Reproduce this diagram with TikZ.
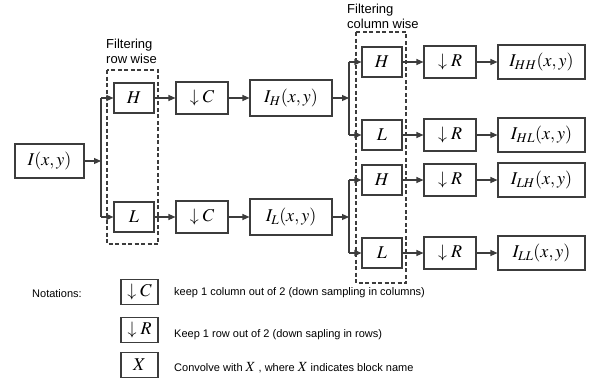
\documentclass[tikz,border=0pt]{standalone}
\usepackage{mathptmx}
\usepackage{fontspec}
\setmainfont{Liberation Serif}
\setsansfont{Liberation Sans}
\usepackage{tikz}
\usetikzlibrary{arrows.meta}
\definecolor{lngray}{RGB}{60,60,60}
\tikzset{
  box/.style={draw=lngray, line width=1.1pt, inner sep=0pt, font=\fontsize{18}{20}\selectfont},
  filt/.style={box, minimum width=40pt, minimum height=30pt},
  dsamp/.style={box, minimum width=52pt, minimum height=32pt},
  img/.style={box, minimum width=82pt, minimum height=36pt},
  outimg/.style={box, minimum width=87pt, minimum height=34pt},
  legbox/.style={box, minimum width=37pt, minimum height=25pt},
  arr/.style={-{Triangle[length=7pt,width=6pt]}, line width=1.1pt, draw=lngray},
  wire/.style={line width=1.1pt, draw=lngray},
  grp/.style={draw=lngray, line width=1.1pt, dash pattern=on 4pt off 2.5pt},
  lbl/.style={font=\sffamily\fontsize{13}{15}\selectfont, align=left, anchor=west, inner sep=0pt},
  note/.style={font=\sffamily\fontsize{11}{13}\selectfont, anchor=west, inner sep=0pt},
}

\begin{document}
\begin{tikzpicture}[x=1pt,y=-1pt]
  \useasboundingbox (0,0) rectangle (593,380);
  % filter groups
  \draw[grp] (107,70) rectangle (158,244);
  \draw[grp] (356,32) rectangle (406,283);
  \node[lbl] (rowlbl) at (106,51) {Filtering\\row wise};
  \node[lbl] (collbl) at (347,16) {Filtering\\column wise};

  \node[img, minimum width=69pt, minimum height=34pt] (in) at (49.5,161) {$I(x,y)$};
  \node[filt] (rowH) at (134,98) {$H$};
  \node[filt] (rowL) at (134,217) {$L$};
  \node[dsamp] (dcH) at (202,98) {$\downarrow C$};
  \node[dsamp] (dcL) at (202,217) {$\downarrow C$};
  \node[img] (iH) at (291,98) {$I_H(x,y)$};
  \node[img] (iL) at (291,217) {$I_L(x,y)$};

  \foreach \nm/\fl/\y in {HH/H/62, HL/L/135, LH/H/180, LL/L/253}{
    \node[filt] (c\nm) at (382,\y) {$\fl$};
    \node[dsamp] (r\nm) at (450,\y) {$\downarrow R$};
    \node[outimg] (o\nm) at (541.5,\y) {$I_{\nm}(x,y)$};
    \draw[arr] (c\nm) -- (r\nm);
    \draw[arr] (r\nm) -- (o\nm);
  }

  % split points
  \coordinate (s1) at (101,161);
  \coordinate (s1t) at (101,98);
  \coordinate (s1b) at (101,217);
  \coordinate (s2) at (349,98);
  \coordinate (s2t) at (349,62);
  \coordinate (s2b) at (349,135);
  \coordinate (s3) at (349,217);
  \coordinate (s3t) at (349,180);
  \coordinate (s3b) at (349,253);

  \draw[arr] (in) -- (s1);
  \draw[wire] (s1t) -- (s1b);
  \draw[wire] (s2t) -- (s2b);
  \draw[wire] (s3t) -- (s3b);
  \foreach \a/\b in {s1t/rowH, s1b/rowL, rowH/dcH, rowL/dcL, dcH/iH, dcL/iL,
                     iH/s2, iL/s3, s2t/cHH, s2b/cHL, s3t/cLH, s3b/cLL}
    \draw[arr] (\a) -- (\b);

  % notations
  \node[note] (notlbl) at (32,294) {Notations:};
  \node[legbox] (kC) at (139.5,292) {$\downarrow C$};
  \node[legbox] (kR) at (139.5,330) {$\downarrow R$};
  \node[legbox] (kX) at (139.5,365) {$X$};
  \node[note] (ktxtC) at (174,293) {keep 1 column out of 2 (down sampling in columns)};
  \node[note] (ktxtR) at (174,335) {Keep 1 row out of 2 (down sapling in rows)};
  \node[note] (ktxtX) at (174,368) {Convolve with {\fontsize{14}{14}\selectfont$X$} , where {\fontsize{14}{14}\selectfont$X$} indicates block name};
\end{tikzpicture}
\end{document}
